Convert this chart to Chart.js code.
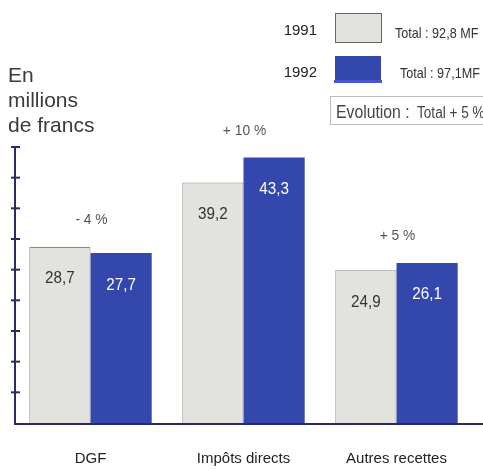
<!DOCTYPE html>
<html>
<head>
<meta charset="utf-8">
<script src="https://cdn.jsdelivr.net/npm/chart.js@4.4.0/dist/chart.umd.min.js"></script>
<style>
  html, body { margin: 0; padding: 0; background: #fff; }
  #chart { display: block; }
</style>
</head>
<body>
<canvas id="chart" width="483" height="469"></canvas>
<script>
// donnees
const categories = ['DGF', 'Impôts directs', 'Autres recettes'];
const values1991 = [28.7, 39.2, 24.9];
const values1992 = [27.7, 43.3, 26.1];
const changes = ['- 4 %', '+ 10 %', '+ 5 %'];
const years = ['1991', '1992'];
const totals = ['Total : 92,8 MF', 'Total : 97,1MF'];
const evolutionLabel = 'Evolution :';
const evolutionValue = 'Total + 5 %';
const yMax = 45;
const yStep = 5;

const navy = '#272b66';
const blue = '#3447ad';
const grey = '#e2e2df';
const sans = '"Liberation Sans", Arial, sans-serif';

const fmt = v => v.toFixed(1).replace('.', ',');

// texte "etroit" : on comprime horizontalement
function narrowText(ctx, text, x, y, sx) {
    ctx.save();
    ctx.translate(x, y);
    ctx.scale(sx, 1);
    ctx.fillText(text, 0, 0);
    ctx.restore();
}

// axe, libelles, legende
const decorPlugin = {
    id: 'decor',
    afterDatasetsDraw(chart) {
        const ctx = chart.ctx;
        const y = chart.scales.y;
        const axisX = 15;

        ctx.save();
        // axe vertical + graduations
        ctx.strokeStyle = navy;
        ctx.lineWidth = 2;
        ctx.beginPath();
        ctx.moveTo(axisX, y.getPixelForValue(yMax));
        ctx.lineTo(axisX, y.getPixelForValue(0) + 1);
        ctx.stroke();
        for (let v = yStep; v <= yMax; v += yStep) {
            const py = y.getPixelForValue(v);
            ctx.beginPath();
            ctx.moveTo(axisX - 4, py);
            ctx.lineTo(axisX + 5, py);
            ctx.stroke();
        }
        // ligne de base
        ctx.beginPath();
        ctx.moveTo(axisX - 1, y.getPixelForValue(0) + 1);
        ctx.lineTo(chart.width, y.getPixelForValue(0) + 1);
        ctx.stroke();

        // valeurs dans les barres
        ctx.textAlign = 'center';
        ctx.textBaseline = 'middle';
        ctx.font = '16px ' + sans;
        [values1991, values1992].forEach((vals, d) => {
            const meta = chart.getDatasetMeta(d);
            vals.forEach((v, i) => {
                const bar = meta.data[i];
                ctx.fillStyle = d === 0 ? '#333' : '#fff';
                narrowText(ctx, fmt(v), bar.x, bar.y + 32, 0.95);
            });
        });

        // evolutions
        ctx.font = '15px ' + sans;
        ctx.fillStyle = '#555';
        changes.forEach((c, i) => {
            const top = Math.min(chart.getDatasetMeta(0).data[i].y, chart.getDatasetMeta(1).data[i].y);
            const cx = chart.scales.x.getPixelForValue(i) + 1;
            narrowText(ctx, c, cx, top - 27, 0.92);
        });

        // titre axe
        ctx.textAlign = 'left';
        ctx.textBaseline = 'alphabetic';
        ctx.font = '21px ' + sans;
        ctx.fillStyle = '#3a3a3a';
        ctx.fillText('En', 8, 82);
        ctx.fillText('millions', 8, 107);
        ctx.fillText('de francs', 8, 132);

        // legende
        ctx.font = '15px ' + sans;
        ctx.fillStyle = '#222';
        ctx.textAlign = 'right';
        ctx.fillText(years[0], 317, 35);
        ctx.fillText(years[1], 317, 77);
        ctx.fillStyle = grey;
        ctx.fillRect(335, 13, 46, 29);
        ctx.strokeStyle = '#666';
        ctx.lineWidth = 1;
        ctx.strokeRect(335.5, 13.5, 46, 29);
        ctx.fillStyle = blue;
        ctx.fillRect(335, 56, 46, 25);
        ctx.fillStyle = '#4a54d6';
        ctx.fillRect(334, 80, 48, 3);

        ctx.textAlign = 'left';
        ctx.font = '15px ' + sans;
        ctx.fillStyle = '#333';
        narrowText(ctx, totals[0], 395, 38, 0.84);
        narrowText(ctx, totals[1], 400, 78, 0.84);

        // encadre evolution
        ctx.strokeStyle = '#bbb';
        ctx.strokeRect(330.5, 96.5, 160, 28);
        ctx.font = '19px ' + sans;
        ctx.fillStyle = '#444';
        narrowText(ctx, evolutionLabel, 336, 118, 0.83);
        ctx.font = '16px ' + sans;
        narrowText(ctx, evolutionValue, 417, 118, 0.85);
        ctx.restore();
    }
};

new Chart(document.getElementById('chart'), {
    type: 'bar',
    data: {
        labels: categories,
        datasets: [
            { label: years[0], data: values1991, backgroundColor: grey, borderColor: '#8a8a8a', borderWidth: 1 },
            { label: years[1], data: values1992, backgroundColor: blue, borderColor: blue, borderWidth: 0 }
        ]
    },
    options: {
        responsive: false,
        animation: false,
        layout: { padding: { left: 14, right: 10, top: 147, bottom: 0 } },
        datasets: { bar: { categoryPercentage: 0.8, barPercentage: 1.0 } },
        plugins: { legend: { display: false }, tooltip: { enabled: false } },
        scales: {
            x: {
                grid: { display: false },
                border: { display: false },
                ticks: { color: '#222', font: { family: sans, size: 15 }, padding: 19 },
                afterFit: s => { s.height = 46; }
            },
            y: { display: false, min: 0, max: yMax }
        }
    },
    plugins: [decorPlugin]
});
</script>
</body>
</html>
